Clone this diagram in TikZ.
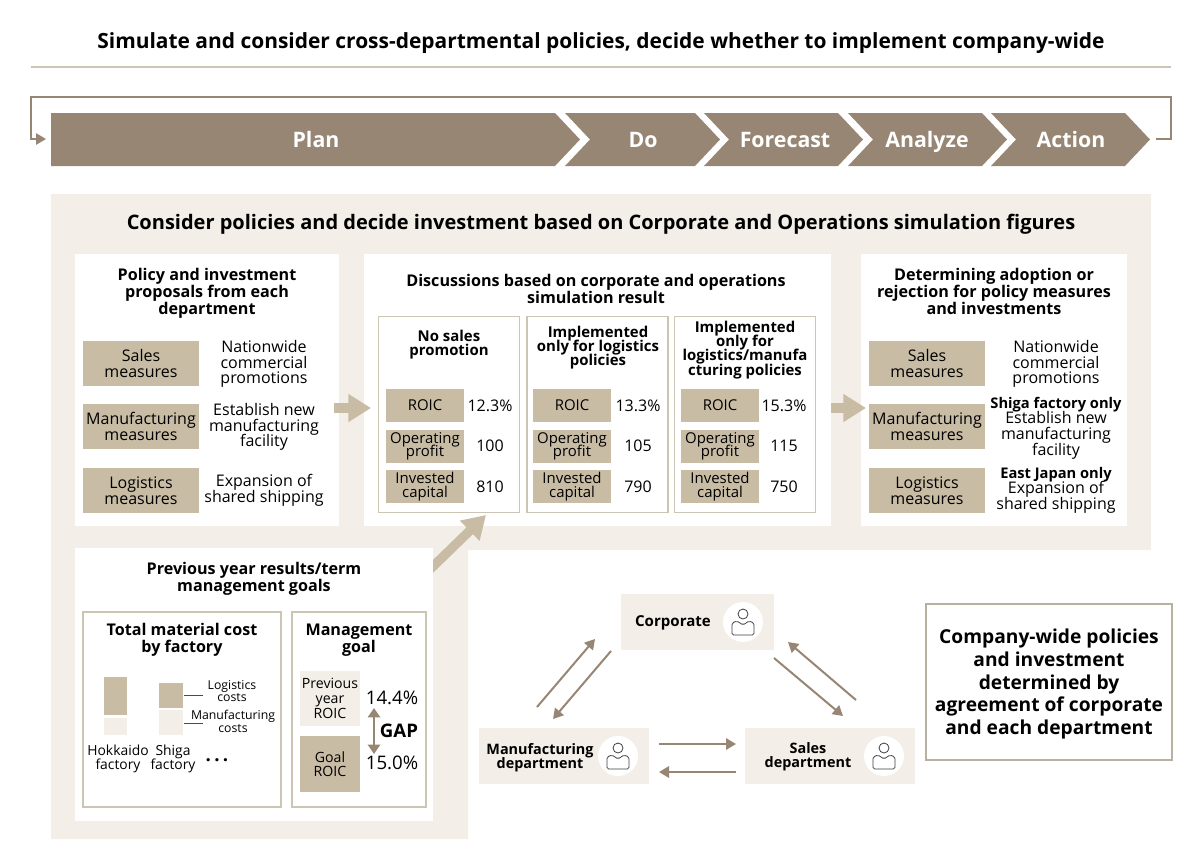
\documentclass[tikz,border=0pt]{standalone}
\usepackage{fontspec}
\setmainfont{Open Sans}
\usetikzlibrary{arrows.meta}
\definecolor{darktan}{HTML}{978674}
\definecolor{midtan}{HTML}{C9BCA5}
\definecolor{paletan}{HTML}{F3EEE7}
\definecolor{ruletan}{HTML}{CDC5B3}
\lineskiplimit=-20pt
\newcommand\boldline[1]{{\fontsize{11}{11.7}\bfseries\selectfont #1}}
\tikzset{
	size/.style n args={2}{minimum width=#1*0.75pt, minimum height=#2*0.75pt, inner sep=0pt, outer sep=0pt},
	txt/.style={align=center, inner sep=0pt, font=\fontsize{12}{11.7}\selectfont},
	celltxt/.style={align=center, inner sep=0pt, font=\fontsize{11.2}{10}\selectfont},
	smalltxt/.style={align=center, inner sep=0pt, font=\fontsize{9.2}{9.6}\selectfont},
	headtxt/.style={align=center, inner sep=0pt, font=\fontsize{12.1}{12.8}\bfseries\selectfont},
	depttxt/.style={align=center, inner sep=0pt, font=\fontsize{10.8}{10.2}\bfseries\selectfont},
	coltxt/.style={align=center, inner sep=0pt, font=\fontsize{11.2}{10.6}\bfseries\selectfont},
	whitebox/.style={fill=white, anchor=center},
	framebox/.style={draw=ruletan, line width=1pt, fill=white},
	tanbox/.style={fill=midtan, txt},
	cellbox/.style={fill=midtan, celltxt},
	palebox/.style={fill=paletan, txt},
	chevlabel/.style={text=white, inner sep=0pt, anchor=base, font=\fontsize{16}{17}\bfseries\selectfont},
	flow/.style={draw=darktan, line width=1.5pt, -{Triangle[length=7.5pt,width=8.5pt]}},
	bigflow/.style={draw=midtan, line width=7pt, -{Triangle[length=17pt,width=20pt]}},
	deptbox/.style={fill=paletan},
	iconbg/.style={circle, fill=white, minimum size=30pt, inner sep=0pt},
	person/.pic={
		\draw[line width=0.6pt, draw=black!75] (0,-8) circle (5);
		\draw[line width=0.6pt, draw=black!75, rounded corners=1.2pt] (-11,13) -- (-11,1) -- (-6,-1) -- (0,3) -- (6,-1) -- (11,1) -- (11,13) -- cycle;
	}
}
\begin{document}
\begin{tikzpicture}[x=0.75pt, y=-0.75pt, >=latex]
	\useasboundingbox (0,0) rectangle (1200,865);

	% heading
	\node[inner sep=0pt, font=\fontsize{15.7}{17}\bfseries\selectfont] (heading) at (601,43) {Simulate and consider cross-departmental policies, decide whether to implement company-wide};
	\coordinate (rulea) at (31,67);
	\coordinate (ruleb) at (1171,67);
	\draw[ruletan, line width=1pt] (rulea) -- (ruleb);

	% process band
	\coordinate (loopa) at (1156,139);
	\coordinate (loopb) at (46,139);
	\draw[flow, line width=1.3pt] (loopa) -- ++(15,0) -- ++(0,-42) -- ++(-1140,0) -- ++(0,42) -- (loopb);
	\fill[darktan] (51,113) -- (555,113) -- (580,139.5) -- (555,166) -- (51,166) -- cycle;
	\node[chevlabel] (plan) at (316,147) {Plan};
	\foreach \nm/\lab/\xa/\xb/\xm in {do/Do/565/695/643, forecast/Forecast/704/838/785, analyze/Analyze/848/982/927, action/Action/991/1125/1071} {
		\fill[darktan] (\xa,113) -- (\xb,113) -- (\xb+25,139.5) -- (\xb,166) -- (\xa,166) -- (\xa+25,139.5) -- cycle;
		\node[chevlabel] (\nm) at (\xm,147) {\lab};
	}

	% big panel
	\fill[paletan] (51,194) -- (1151,194) -- (1151,550) -- (468,550) -- (468,839) -- (51,839) -- cycle;
	\node[inner sep=0pt, font=\fontsize{15}{16}\bfseries\selectfont] (paneltitle) at (601,224.5) {Consider policies and decide investment based on Corporate and Operations simulation figures};

	\node[whitebox, size={264}{272}] (propbox) at (207,390) {};
	\node[whitebox, size={467}{272}] (discbox) at (597.5,390) {};
	\node[whitebox, size={266}{272}] (decbox) at (994,390) {};

	% arrow into discussions, tail goes under the lower box
	\coordinate (diagfrom) at (420,579);
	\coordinate (diagto) at (486,515);
	\draw[bigflow] (diagfrom) -- (diagto);
	\node[whitebox, size={358}{273}] (prevbox) at (254,684.5) {};

	% proposals
	\node[headtxt] (proptitle) at (207,293.5) {Policy and investment\\proposals from each\\department};
	\node[tanbox, size={116}{45}] (salesa) at (141,363.5) {Sales\\measures};
	\node[tanbox, size={116}{45}] (manua) at (141,426.5) {Manufacturing\\measures};
	\node[tanbox, size={116}{45}] (logia) at (141,490.5) {Logistics\\measures};
	\node[txt] (salesb) at (264,364) {Nationwide\\commercial\\promotions};
	\node[txt] (manub) at (264,427) {Establish new\\manufacturing\\facility};
	\node[txt] (logib) at (264,490) {Expansion of\\shared shipping};

	% discussions
	\node[headtxt] (disctitle) at (596,288.5) {Discussions based on corporate and operations\\simulation result};
	\node[framebox, size={141}{196}] (colone) at (449,414.5) {};
	\node[framebox, size={141}{196}] (coltwo) at (597.5,414.5) {};
	\node[framebox, size={141}{196}] (colthree) at (745,414.5) {};
	\node[coltxt] (coloneh) at (449,345) {No sales\\promotion};
	\node[coltxt] (coltwoh) at (598,347.5) {Implemented\\only for logistics\\policies};
	\node[coltxt] (colthreeh) at (745,350) {Implemented\\only for\\logistics/manufa\\cturing policies};
	\foreach \nm/\xa/\xv/\va/\vb/\vc in {a/425/490/12.3\%/100/810, b/572/638/13.3\%/105/790, c/720/784/15.3\%/115/750} {
		\node[cellbox, size={78}{33}] (roic\nm) at (\xa,405.5) {ROIC};
		\node[cellbox, size={78}{33}] (prof\nm) at (\xa,446) {Operating\\profit};
		\node[cellbox, size={78}{33}] (cap\nm) at (\xa,486.5) {Invested\\capital};
		\node[txt] (roicv\nm) at (\xv,405.5) {\va};
		\node[txt] (profv\nm) at (\xv,446) {\vb};
		\node[txt] (capv\nm) at (\xv,486.5) {\vc};
	}

	% decisions
	\node[headtxt] (dectitle) at (994,291.5) {Determining adoption or\\rejection for policy measures\\and investments};
	\node[tanbox, size={116}{45}] (salesc) at (927,363.5) {Sales\\measures};
	\node[tanbox, size={116}{45}] (manuc) at (927,426.5) {Manufacturing\\measures};
	\node[tanbox, size={116}{45}] (logic) at (927,490.5) {Logistics\\measures};
	\node[txt] (salesd) at (1056,364) {Nationwide\\commercial\\promotions};
	\node[txt] (manud) at (1056,428) {\boldline{Shiga factory only}\\Establish new\\manufacturing\\facility};
	\node[txt] (logid) at (1056,490) {\boldline{East Japan only}\\Expansion of\\shared shipping};

	% block arrows
	\coordinate (aa) at (334,408);
	\coordinate (ab) at (371,408);
	\coordinate (ba) at (831,408);
	\coordinate (bb) at (866,408);
	\draw[bigflow] (aa) -- (ab);
	\draw[bigflow] (ba) -- (bb);

	% previous year
	\node[headtxt] (prevtitle) at (254,579) {Previous year results/term\\management goals};
	\node[framebox, size={198}{195}] (costbox) at (182,709.5) {};
	\node[framebox, size={134}{195}] (goalbox) at (359,709.5) {};
	\node[headtxt] (costtitle) at (182,640) {Total material cost\\by factory};
	\node[headtxt] (goaltitle) at (359,640) {Management\\goal};
	\node[fill=midtan, size={23}{38}] (bara) at (115.5,696) {};
	\node[fill=paletan, size={23}{17}] (barb) at (115.5,726.5) {};
	\node[fill=midtan, size={24}{25}] (barc) at (171,695.5) {};
	\node[fill=paletan, size={24}{25}] (bard) at (171,722.5) {};
	\node[smalltxt] (logicost) at (232,691) {Logistics\\costs};
	\node[smalltxt] (manucost) at (233,721) {Manufacturing\\costs};
	\coordinate (lineaa) at (184,695);
	\coordinate (lineab) at (203,695);
	\coordinate (lineba) at (184,723);
	\coordinate (linebb) at (203,723);
	\draw[black!70, line width=0.6pt] (lineaa) -- (lineab);
	\draw[black!70, line width=0.6pt] (lineba) -- (linebb);
	\node[celltxt, font=\fontsize{10.4}{10}\selectfont] (hokkaido) at (118,759) {Hokkaido\\factory};
	\node[celltxt, font=\fontsize{10.4}{10}\selectfont] (shiga) at (173,759) {Shiga\\factory};
	\node[inner sep=0pt, font=\fontsize{14}{14}\bfseries\selectfont] (dots) at (217,760) {.\hspace{2.5pt}.\hspace{2.5pt}.};
	\node[palebox, size={60}{55}, font=\fontsize{10.6}{11}\selectfont] (prevroic) at (330,698.5) {Previous\\year\\ROIC};
	\node[tanbox, size={60}{56}, font=\fontsize{10.6}{10.6}\selectfont] (goalroic) at (330,764) {Goal\\ROIC};
	\node[inner sep=0pt, font=\fontsize{14}{14}\selectfont] (prevval) at (392,698) {14.4\%};
	\node[inner sep=0pt, font=\fontsize{14}{14}\selectfont] (goalval) at (392,763) {15.0\%};
	\node[inner sep=0pt, font=\fontsize{14}{14}\bfseries\selectfont] (gap) at (399,731) {GAP};
	\coordinate (gapa) at (374,708);
	\coordinate (gapb) at (374,754);
	\draw[draw=darktan, line width=2.2pt, {Triangle[length=7pt,width=9pt]}-{Triangle[length=7pt,width=9pt]}] (gapa) -- (gapb);

	% departments
	\node[deptbox, size={153}{56}] (corp) at (697.5,622) {};
	\node[depttxt, font=\fontsize{11.3}{11}\bfseries\selectfont] (corplab) at (673,623) {Corporate};
	\node[deptbox, size={170}{56}] (manu) at (564,756) {};
	\node[depttxt] (manulab) at (540,758) {Manufacturing\\department};
	\node[deptbox, size={170}{56}] (sales) at (830,756) {};
	\node[depttxt] (saleslab) at (808,757) {Sales\\department};
	\node[iconbg] (corpicon) at (743,622) {};
	\node[iconbg] (manuicon) at (618,756) {};
	\node[iconbg] (salesicon) at (884,756) {};
	\pic at (corpicon) {person};
	\pic at (manuicon) {person};
	\pic at (salesicon) {person};
	\coordinate (ma) at (537,707);
	\coordinate (mb) at (595,639);
	\coordinate (mc) at (611,651);
	\coordinate (md) at (553,719);
	\coordinate (sa) at (774,658);
	\coordinate (sb) at (843,716);
	\coordinate (sc) at (856,700);
	\coordinate (sd) at (788,642);
	\coordinate (ha) at (659,744);
	\coordinate (hb) at (736,744);
	\coordinate (hc) at (736,772);
	\coordinate (hd) at (659,772);
	\draw[flow] (ma) -- (mb);
	\draw[flow] (mc) -- (md);
	\draw[flow] (sa) -- (sb);
	\draw[flow] (sc) -- (sd);
	\draw[flow] (ha) -- (hb);
	\draw[flow] (hc) -- (hd);

	% result
	\node[draw=ruletan!90!black, line width=0.8pt, fill=white, size={246}{156}] (result) at (1049,682) {};
	\node[align=center, inner sep=0pt, font=\fontsize{14.4}{17.2}\bfseries\selectfont] (resulttxt) at (1049,684) {Company-wide policies\\and investment\\determined by\\agreement of corporate\\and each department};
\end{tikzpicture}
\end{document}
